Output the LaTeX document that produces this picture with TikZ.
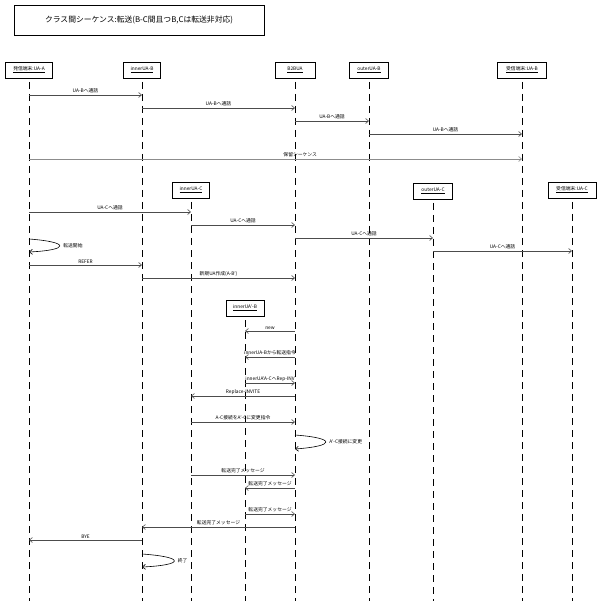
\documentclass[tikz,border=0pt]{standalone}
\usepackage{fontspec}
\setmainfont{Noto Sans CJK JP}
\usetikzlibrary{arrows.meta}
\begin{document}
\begin{tikzpicture}[x=1pt,y=-1pt,
 hd/.style={draw,line width=0.8pt,fill=white,minimum height=16pt,inner sep=2pt,font=\fontsize{4.8}{5}\selectfont},
 life/.style={dash pattern=on 7pt off 5pt,line width=0.6pt},
 msg/.style={-{Straight Barb[length=3pt,width=5pt]},line width=0.6pt,draw=black!70},
 lab/.style={font=\fontsize{4.8}{5}\selectfont,above,inner sep=1.5pt}]
\useasboundingbox (0,0) rectangle (601,601);
\node[draw,line width=0.8pt,minimum width=250pt,minimum height=30pt,font=\fontsize{7.8}{8}\selectfont] (title) at (139,20) {クラス間シーケンス:転送(B-C間且つB,Cは転送非対応)};
% lifelines
\foreach \n/\x/\y/\t/\w in {a/29/70/発信端末:UA-A/47, b/142/70/innerUA-B/37, s/295/70/B2BUA/40, ob/369/70/outerUA-B/39, rb/522/70/受信端末:UA-B/49, ic/191/190/innerUA-C/37, oc/433/191/outerUA-C/39, rc/572/190/受信端末:UA-C/48, ip/245/308/innerUA'-B/38}{
 \coordinate (\n e) at (\x,601);
 \draw[life] (\x,\y) -- (\n e);
 \node[hd,minimum width=\w pt] (\n) at (\x,\y) {\underline{\t}};
}
\newcommand\msgto[5]{% from x, to x, y, label
 \coordinate (m1) at (#1,#3); \coordinate (m2) at (#2,#3);
 \draw[msg] (m1) -- node[lab]{#4} (m2);}
\msgto{29}{142}{95}{UA-Bへ通話}{}
\msgto{142}{295}{108}{UA-Bへ通話}{}
\msgto{295}{369}{121}{UA-Bへ通話}{}
\msgto{369}{522}{134}{UA-Bへ通話}{}
\coordinate (h1) at (29,159); \coordinate (h2) at (522,159);
\draw[msg,draw=black!45] (h1) -- node[lab,pos=0.55]{保留シーケンス} (h2);
\msgto{29}{191}{212}{UA-Cへ通話}{}
\msgto{191}{295}{225}{UA-Cへ通話}{}
\msgto{295}{433}{238}{UA-Cへ通話}{}
\msgto{433}{572}{251}{UA-Cへ通話}{}
\coordinate (l1) at (29,239); \coordinate (l2) at (29,252);
\draw[msg,draw=black] (l1) .. controls (70,242) and (70,250) .. node[right,font=\fontsize{4.8}{5}\selectfont]{転送開始} (l2);
\msgto{29}{142}{265}{REFER}{}
\msgto{142}{295}{278}{新規UA作成(A-B')}{}
\msgto{295}{245}{331}{new}{}
\msgto{295}{245}{357}{innerUA-Bから転送指令}{}
\msgto{245}{295}{383}{innerUA'A-CへRep-INV}{}
\msgto{295}{191}{396}{Replace-INVITE}{}
\msgto{191}{295}{422}{A-C接続をA'-Cに変更指令}{}
\coordinate (l3) at (295,435); \coordinate (l4) at (295,449);
\draw[msg,draw=black] (l3) .. controls (336,438) and (336,446) .. node[right,font=\fontsize{4.8}{5}\selectfont]{A'-C接続に変更} (l4);
\msgto{191}{295}{475}{転送完了メッセージ}{}
\msgto{295}{245}{488}{転送完了メッセージ}{}
\msgto{245}{295}{514}{転送完了メッセージ}{}
\msgto{295}{142}{527}{転送完了メッセージ}{}
\msgto{142}{29}{540}{BYE}{}
\coordinate (l5) at (142,554); \coordinate (l6) at (142,567);
\draw[msg,draw=black] (l5) .. controls (185,557) and (185,565) .. node[right,font=\fontsize{4.8}{5}\selectfont]{終了} (l6);
\end{tikzpicture}
\end{document}
